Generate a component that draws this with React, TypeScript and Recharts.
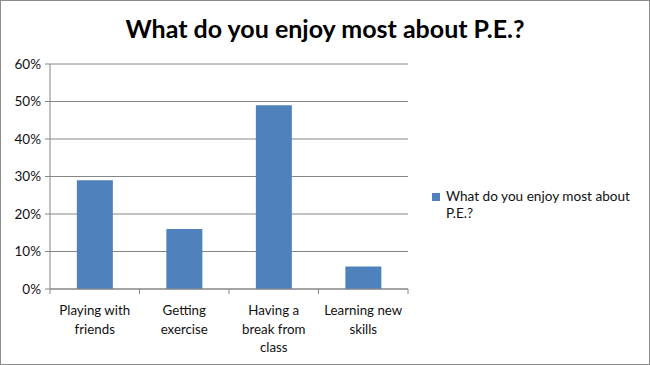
import { Bar, BarChart, CartesianGrid, XAxis, YAxis } from "recharts";

const categories = ["Playing with friends", "Getting exercise", "Having a break from class", "Learning new skills"];
const categoryLines = [["Playing with", "friends"], ["Getting", "exercise"], ["Having a", "break from", "class"], ["Learning new", "skills"]];
const shares = [29, 16, 49, 6];
const yTicks = [0, 10, 20, 30, 40, 50, 60];

const data = categories.map((name, i) => ({ name, value: shares[i] }));

const FONT = "Lato, 'Open Sans', sans-serif";
const BAR = "#4f81bd";
const GRID = "#868686";
const BAND = 89.5;
const AXIS_Y = 289;

function CategoryTick(props: any) {
  const { x, index } = props;
  const lines = categoryLines[index] ?? [];
  return (
    <g>
      <line x1={x - BAND / 2} x2={x - BAND / 2} y1={AXIS_Y} y2={AXIS_Y + 5} stroke={GRID} />
      {index === categories.length - 1 && (
        <line x1={x + BAND / 2} x2={x + BAND / 2} y1={AXIS_Y} y2={AXIS_Y + 5} stroke={GRID} />
      )}
      {lines.map((l, i) => (
        <text key={i} x={x} y={AXIS_Y + 26 + i * 18.5} textAnchor="middle" fontSize={13.3} fontFamily={FONT} fill="#111">
          {l}
        </text>
      ))}
    </g>
  );
}

export default function App() {
  return (
    <div
      style={{
        position: "fixed",
        left: 0,
        top: 0,
        width: 650,
        height: 365,
        boxSizing: "border-box",
        border: "1px solid #8c8c8c",
        background: "#fff",
      }}
    >
      <div
        style={{
          position: "absolute",
          left: -1,
          top: 12,
          width: 650,
          textAlign: "center",
          fontFamily: FONT,
          fontWeight: 700,
          fontSize: 25,
          color: "#000",
        }}
      >
        What do you enjoy most about P.E.?
      </div>
      <div style={{ position: "absolute", left: -1, top: -1 }}>
        <BarChart width={650} height={365} data={data} margin={{ top: 64, right: 242, bottom: 0, left: 0 }} barCategoryGap="30%">
          <CartesianGrid stroke={GRID} vertical={false} />
          <XAxis
            dataKey="name"
            height={76}
            interval={0}
            tickLine={false}
            axisLine={{ stroke: GRID }}
            tick={<CategoryTick />}
          />
          <YAxis
            width={50}
            domain={[0, 60]}
            ticks={yTicks}
            tickFormatter={(v: number) => `${v}%`}
            axisLine={{ stroke: GRID }}
            tickLine={{ stroke: GRID }}
            tickSize={5}
            tick={{ fill: "#111", fontSize: 13.5, fontFamily: FONT, dx: -2 }}
          />
          <Bar dataKey="value" name="What do you enjoy most about P.E.?" fill={BAR} isAnimationActive={false} />
        </BarChart>
      </div>
      <div
        style={{
          position: "absolute",
          left: 431,
          top: 187,
          width: 215,
          fontFamily: FONT,
          fontSize: 13.6,
          color: "#111",
          lineHeight: "17px",
        }}
      >
        <span style={{ position: "absolute", left: 0, top: 5, width: 8, height: 8, background: BAR }} />
        <div style={{ marginLeft: 14 }}>
          What do you enjoy most about
          <br />
          P.E.?
        </div>
      </div>
    </div>
  );
}
